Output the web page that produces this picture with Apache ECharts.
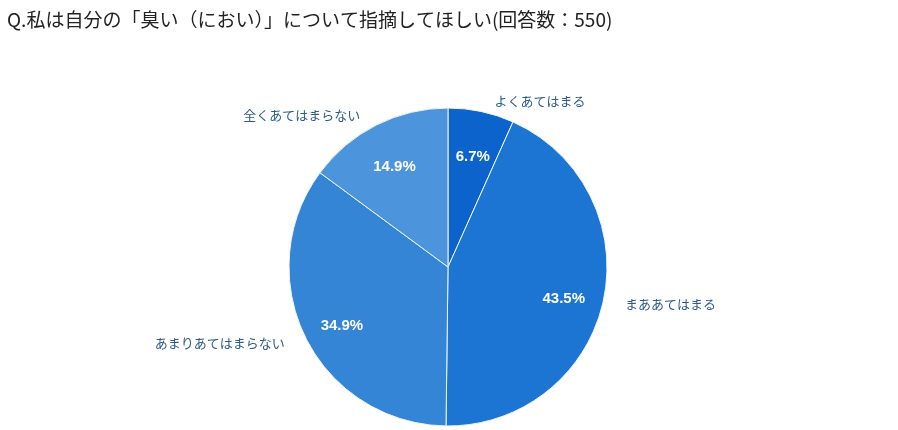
<!DOCTYPE html>
<html>
<head>
<meta charset="utf-8">
<script src="https://cdn.jsdelivr.net/npm/echarts@6/dist/echarts.min.js"></script>
<style>
  html, body { margin: 0; padding: 0; background: #fff; }
  #chart { width: 898px; height: 430px; }
</style>
</head>
<body>
<div id="chart"></div>
<script>
  var titleText = 'Q.私は自分の「臭い（におい）」について指摘してほしい(回答数：550)';
  var categories = ['よくあてはまる', 'まああてはまる', 'あまりあてはまらない', '全くあてはまらない'];
  var values = [6.7, 43.5, 34.9, 14.9];
  var colors = ['#0b63cb', '#1d75d3', '#3585d7', '#4c94db'];

  var pieData = categories.map(function(name, i) {
    return { name: name, value: values[i], itemStyle: { color: colors[i] } };
  });

  var center = [448, 267];

  var chart = echarts.init(document.getElementById('chart'));
  chart.setOption({
    animation: false,
    title: {
      text: titleText,
      left: 2,
      top: 5,
      textStyle: {
        fontFamily: 'Noto Sans CJK JP',
        fontSize: 19,
        fontWeight: 'normal',
        color: '#222'
      }
    },
    series: [
      {
        // 本体 + 外側の項目名
        type: 'pie',
        center: center,
        radius: 159,
        startAngle: 90,
        data: pieData,
        itemStyle: { borderColor: '#eef4fb', borderWidth: 1 },
        label: {
          show: true,
          position: 'outside',
          formatter: '{b}',
          color: '#2b5a8c',
          fontFamily: 'Noto Sans CJK JP',
          fontSize: 13
        },
        labelLine: { show: false, length: 11, length2: 6 }
      },
      {
        // パーセント表示用（透明）
        type: 'pie',
        center: center,
        radius: [72, 159],
        startAngle: 90,
        silent: true,
        data: pieData.map(function(d) {
          return { name: d.name, value: d.value, itemStyle: { color: 'transparent' } };
        }),
        label: {
          show: true,
          position: 'inside',
          offset: [0, 6],
          formatter: function(p) { return p.value.toFixed(1) + '%'; },
          color: '#fff',
          fontFamily: 'Liberation Sans',
          fontWeight: 'bold',
          fontSize: 15
        },
        labelLine: { show: false }
      }
    ]
  });
</script>
</body>
</html>
